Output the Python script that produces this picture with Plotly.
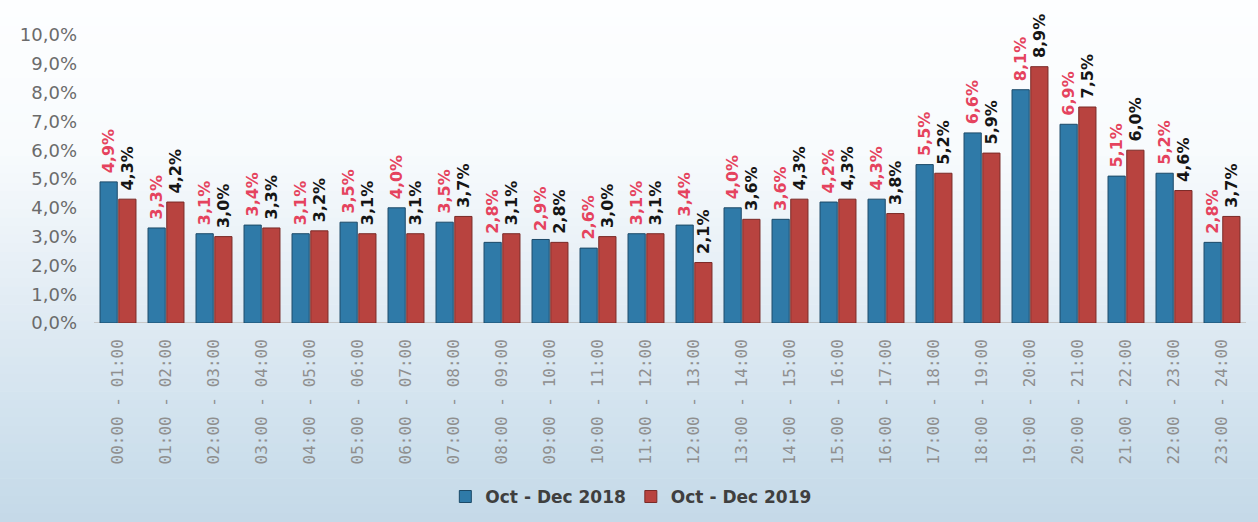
import plotly.graph_objects as go

categories = ["00:00 - 01:00", "01:00 - 02:00", "02:00 - 03:00", "03:00 - 04:00",
              "04:00 - 05:00", "05:00 - 06:00", "06:00 - 07:00", "07:00 - 08:00",
              "08:00 - 09:00", "09:00 - 10:00", "10:00 - 11:00", "11:00 - 12:00",
              "12:00 - 13:00", "13:00 - 14:00", "14:00 - 15:00", "15:00 - 16:00",
              "16:00 - 17:00", "17:00 - 18:00", "18:00 - 19:00", "19:00 - 20:00",
              "20:00 - 21:00", "21:00 - 22:00", "22:00 - 23:00", "23:00 - 24:00"]
share_2018 = [4.9, 3.3, 3.1, 3.4, 3.1, 3.5, 4.0, 3.5, 2.8, 2.9, 2.6, 3.1,
              3.4, 4.0, 3.6, 4.2, 4.3, 5.5, 6.6, 8.1, 6.9, 5.1, 5.2, 2.8]
share_2019 = [4.3, 4.2, 3.0, 3.3, 3.2, 3.1, 3.1, 3.7, 3.1, 2.8, 3.0, 3.1,
              2.1, 3.6, 4.3, 4.3, 3.8, 5.2, 5.9, 8.9, 7.5, 6.0, 4.6, 3.7]
y_ticks = [0, 1, 2, 3, 4, 5, 6, 7, 8, 9, 10]
y_tick_text = [("%.1f%%" % v).replace(".", ",") for v in y_ticks]

W, H = 1258, 522
ML, MR, MT, MB = 94, 12, 35, 199
pw, ph = W - ML - MR, H - MT - MB

fig = go.Figure()
fig.add_trace(go.Bar(
    x=categories, y=share_2018, name="Oct - Dec 2018",
    marker=dict(color="#2f7aa8", line=dict(color="#1c4a68", width=1)),
    texttemplate="\u00a0%{y:.1f}%", textposition="outside", textangle=-90,
    constraintext="none",
    textfont=dict(family="DejaVu Sans", size=16, color="#e5435e", weight="bold"),
    cliponaxis=False,
))
fig.add_trace(go.Bar(
    x=categories, y=share_2019, name="Oct - Dec 2019",
    marker=dict(color="#b8433f", line=dict(color="#7a2a27", width=1)),
    texttemplate="\u00a0%{y:.1f}%", textposition="outside", textangle=-90,
    constraintext="none",
    textfont=dict(family="DejaVu Sans", size=16, color="#151515", weight="bold"),
    cliponaxis=False,
))

# vertical background gradient (white at top to light blue at bottom)
def lerp(a, b, t):
    return tuple(int(round(a[i] + (b[i] - a[i]) * t)) for i in range(3))

stops = [(0, (253, 254, 255)), (150, (248, 251, 253)), (300, (226, 236, 244)),
         (420, (209, 226, 238)), (522, (196, 217, 232))]
shapes = []
n = 60
for k in range(n):
    y0px = H * k / n
    y1px = H * (k + 1) / n
    ym = (y0px + y1px) / 2
    for j in range(len(stops) - 1):
        if stops[j][0] <= ym <= stops[j + 1][0]:
            t = (ym - stops[j][0]) / (stops[j + 1][0] - stops[j][0])
            c = lerp(stops[j][1], stops[j + 1][1], t)
            break
    shapes.append(dict(
        type="rect", xref="paper", yref="paper", layer="below",
        x0=-ML / pw, x1=(W - ML) / pw,
        y0=(H - MB - y1px) / ph - 0.001, y1=(H - MB - y0px) / ph + 0.001,
        fillcolor="rgb(%d,%d,%d)" % c, line=dict(width=0),
    ))
# baseline
shapes.append(dict(type="line", xref="paper", yref="y", x0=0, x1=1, y0=0, y1=0,
                   line=dict(color="#c8c8c8", width=2), layer="below"))

fig.update_layout(
    width=W, height=H,
    margin=dict(l=ML, r=MR, t=MT, b=MB, autoexpand=False),
    paper_bgcolor="white", plot_bgcolor="rgba(0,0,0,0)",
    separators=",.",
    barmode="group", bargap=0.22, bargroupgap=0.08,
    shapes=shapes,
    showlegend=True,
    legend=dict(orientation="h", x=0.466, xanchor="center", y=-0.604, yanchor="middle",
                font=dict(family="DejaVu Sans", size=17, color="#3f3f3f", weight="bold"),
                bgcolor="rgba(0,0,0,0)", itemwidth=30, traceorder="normal"),
    xaxis=dict(tickangle=-90, tickfont=dict(family="DejaVu Sans Mono", size=16, color="#8f8f8f"),
               showgrid=False, showline=False, zeroline=False, ticks="",
               ticklabelstandoff=12, automargin=False),
    yaxis=dict(range=[0, 10], tickvals=y_ticks, ticktext=y_tick_text,
               tickfont=dict(family="DejaVu Sans", size=18, color="#6b6b6b"),
               showgrid=False, zeroline=False, showline=False, ticklabelstandoff=16,
               automargin=False),
)

fig.write_html("out.html", config={"displayModeBar": False},
               post_script="document.body.style.margin='0';document.body.style.overflow='hidden';")
